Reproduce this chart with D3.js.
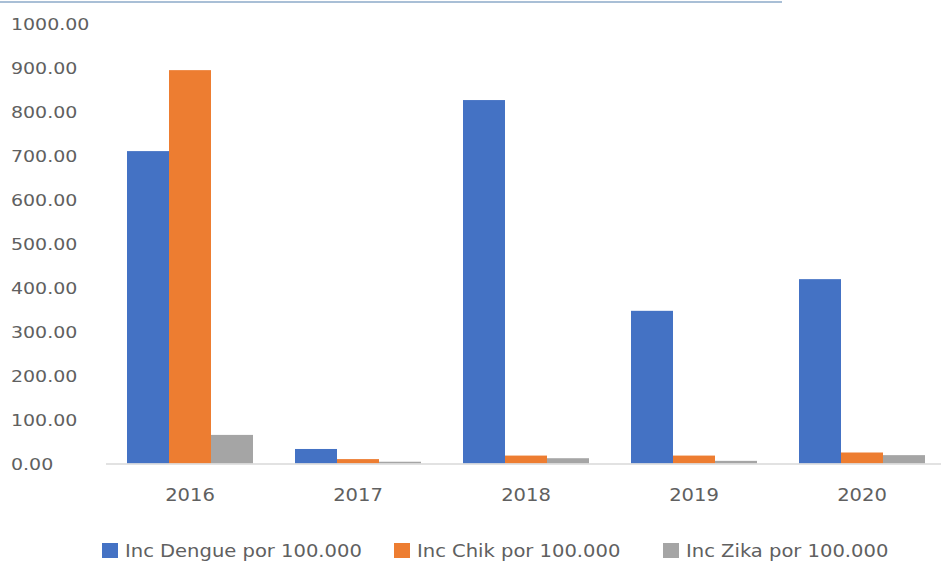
<!DOCTYPE html>
<html><head><meta charset="utf-8">
<script src="https://cdn.jsdelivr.net/npm/d3@7/dist/d3.min.js"></script>
<style>body{margin:0;background:#fff}svg{display:block}</style>
</head><body><svg id="c" width="941" height="562"></svg>
<script>
const years = ["2016","2017","2018","2019","2020"];
const seriesNames = ["Inc Dengue por 100.000","Inc Chik por 100.000","Inc Zika por 100.000"];
const dengue = [710, 33, 826, 347, 419];
const chik = [894, 10, 18, 18, 25];
const zika = [65, 4, 12, 6, 19];
const yTicks = [0,100,200,300,400,500,600,700,800,900,1000];
const colors = ["#4472C4","#ED7D31","#A5A5A5"];
const values = [dengue, chik, zika];

const svg = d3.select("#c");
const font = "'DejaVu Sans', sans-serif";
const SX = 1.15;
const textCol = "#606060";
const x = d3.scaleBand().domain(years).range([106, 946]).paddingInner(0.25).paddingOuter(0.125);
const xs = d3.scaleBand().domain(d3.range(3)).range([0, x.bandwidth()]);
const y = d3.scaleLinear().domain([0, 1000]).range([463.5, 23.5]);

// top border line
svg.append("line").attr("x1",0).attr("x2",782).attr("y1",2).attr("y2",2)
  .attr("stroke","#a9bfd6").attr("stroke-width",2);

// y tick labels
svg.append("g").selectAll("text").data(yTicks).join("text")
  .attr("transform",d=>`translate(11,${y(d)+0.5}) scale(${SX},1)`).attr("dy","0.36em")
  .attr("font-family",font).attr("font-size",16.5).attr("fill",textCol)
  .text(d=>d3.format(".2f")(d));

// bars
const g = svg.append("g");
years.forEach((yr,i)=>{
  values.forEach((arr,s)=>{
    g.append("rect").attr("x",x(yr)+xs(s)).attr("width",xs.bandwidth())
      .attr("y",y(arr[i])).attr("height",y(0)-y(arr[i])).attr("fill",colors[s]);
  });
});

// baseline
svg.append("line").attr("x1",106).attr("x2",941).attr("y1",y(0)+0.5).attr("y2",y(0)+0.5)
  .attr("stroke","#d9d9d9").attr("stroke-width",1.5);

// x axis labels
svg.append("g").selectAll("text").data(years).join("text")
  .attr("transform",d=>`translate(${x(d)+x.bandwidth()/2},494.5) scale(${SX},1)`)
  .attr("text-anchor","middle").attr("dy","0.36em")
  .attr("font-family",font).attr("font-size",17).attr("fill",textCol).text(d=>d);

// legend
const legX = [102, 394, 663];
const lg = svg.append("g");
seriesNames.forEach((n,s)=>{
  lg.append("rect").attr("x",legX[s]).attr("y",543).attr("width",16).attr("height",15).attr("fill",colors[s]);
  lg.append("text").attr("transform",`translate(${legX[s]+23},551) scale(${SX},1)`).attr("dy","0.36em")
    .attr("font-family",font).attr("font-size",17).attr("fill",textCol).text(n);
});
</script></body></html>
